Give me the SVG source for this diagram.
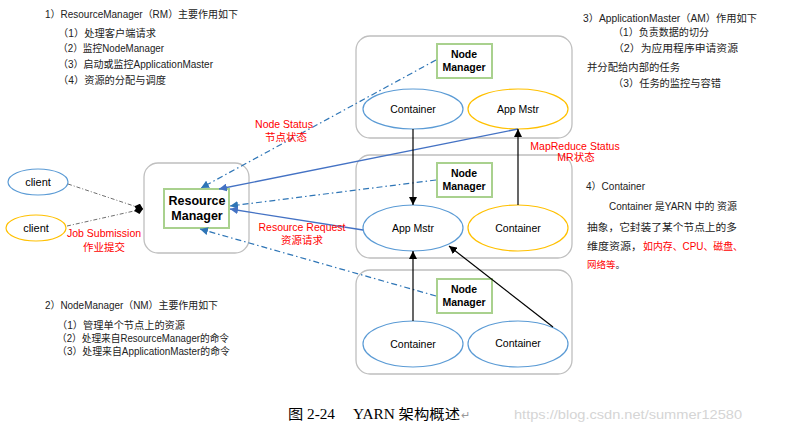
<svg xmlns="http://www.w3.org/2000/svg" width="790" height="434" viewBox="0 0 790 434">
<style>
text{font-family:"Liberation Sans","Noto Sans CJK SC",sans-serif;}
.note{font-size:10px;fill:#222;}
.red{fill:#ff0000;}
.lbl{font-size:10.5px;fill:#ff0000;text-anchor:middle;}
.outer{fill:#fff;stroke:#bfbfbf;stroke-width:1.3;}
.nm{fill:#fff;stroke:#a9d18e;stroke-width:2;}
.nmt{font-size:10.5px;font-weight:bold;fill:#000;text-anchor:middle;}
.eb{fill:#fff;stroke:#5b9bd5;stroke-width:1.2;}
.eo{fill:#fff;stroke:#ffc000;stroke-width:1.2;}
.et{font-size:10.5px;fill:#000;text-anchor:middle;}
.dd{fill:none;stroke:#2e75b6;stroke-width:1.2;stroke-dasharray:6 3 1.5 3;marker-end:url(#ab);}
.sb{fill:none;stroke:#4472c4;stroke-width:1.3;marker-end:url(#ab2);}
.sk{fill:none;stroke:#000;stroke-width:1.2;marker-end:url(#ak);}
.gd{fill:none;stroke:#6f6f6f;stroke-width:1;stroke-dasharray:4 2 1 2;marker-end:url(#dm);}
.cap{font-family:"Liberation Serif","Noto Sans CJK SC",serif;font-size:14px;fill:#000;}
</style>
<defs>
<marker id="ab" markerWidth="9" markerHeight="8" refX="8" refY="4" orient="auto" markerUnits="userSpaceOnUse"><path d="M0,0 L8,4 L0,8 Z" fill="#2e75b6"/></marker>
<marker id="ab2" markerWidth="9" markerHeight="8" refX="8" refY="4" orient="auto" markerUnits="userSpaceOnUse"><path d="M0,0 L8,4 L0,8 Z" fill="#4472c4"/></marker>
<marker id="ak" markerWidth="9" markerHeight="8" refX="8" refY="4" orient="auto" markerUnits="userSpaceOnUse"><path d="M0,0 L8,4 L0,8 Z" fill="#000"/></marker>
<marker id="dm" markerWidth="10" markerHeight="8" refX="9" refY="4" orient="auto" markerUnits="userSpaceOnUse"><path d="M0,4 L4.5,0 L9,4 L4.5,8 Z" fill="#000"/></marker>
</defs>
<rect width="790" height="434" fill="#fff"/>

<g id="notes">
<text class="note" x="45" y="18" textLength="193" lengthAdjust="spacingAndGlyphs">1）ResourceManager（RM）主要作用如下</text>
<text class="note" x="58" y="37" textLength="98" lengthAdjust="spacingAndGlyphs">（1）处理客户端请求</text>
<text class="note" x="58" y="52" textLength="106" lengthAdjust="spacingAndGlyphs">（2）监控NodeManager</text>
<text class="note" x="58" y="68" textLength="155" lengthAdjust="spacingAndGlyphs">（3）启动或监控ApplicationMaster</text>
<text class="note" x="58" y="84" textLength="108" lengthAdjust="spacingAndGlyphs">（4）资源的分配与调度</text>

<text class="note" x="583" y="22" textLength="174" lengthAdjust="spacingAndGlyphs">3）ApplicationMaster（AM）作用如下</text>
<text class="note" x="613" y="36" textLength="96" lengthAdjust="spacingAndGlyphs">（1）负责数据的切分</text>
<text class="note" x="613" y="52" textLength="125" lengthAdjust="spacingAndGlyphs">（2）为应用程序申请资源</text>
<text class="note" x="587" y="71" textLength="93" lengthAdjust="spacingAndGlyphs">并分配给内部的任务</text>
<text class="note" x="613" y="87" textLength="108" lengthAdjust="spacingAndGlyphs">（3）任务的监控与容错</text>

<text class="note" x="586" y="190" textLength="59" lengthAdjust="spacingAndGlyphs">4）Container</text>
<text class="note" x="609" y="210" textLength="128" lengthAdjust="spacingAndGlyphs">Container 是YARN 中的 资源</text>
<text class="note" x="587" y="231" textLength="150" lengthAdjust="spacingAndGlyphs">抽象，它封装了某个节点上的多</text>
<text class="note" x="587" y="250" textLength="55" lengthAdjust="spacingAndGlyphs">维度资源，</text>
<text class="note red" x="643" y="250" textLength="100" lengthAdjust="spacingAndGlyphs">如内存、CPU、磁盘、</text>
<text class="note" x="587" y="268" style="font-size:9.5px"><tspan fill="#ff0000">网络等</tspan>。</text>

<text class="note" x="45" y="309" textLength="173" lengthAdjust="spacingAndGlyphs">2）NodeManager（NM）主要作用如下</text>
<text class="note" x="57" y="329" textLength="128" lengthAdjust="spacingAndGlyphs">（1）管理单个节点上的资源</text>
<text class="note" x="57" y="342" textLength="172" lengthAdjust="spacingAndGlyphs">（2）处理来自ResourceManager的命令</text>
<text class="note" x="57" y="355" textLength="173" lengthAdjust="spacingAndGlyphs">（3）处理来自ApplicationMaster的命令</text>
</g>

<g id="rm-host">
<rect class="outer" x="144" y="163" width="105" height="90" rx="14"/>
</g>
<g id="node1-host"><rect class="outer" x="356" y="36" width="216" height="102" rx="14"/></g>
<g id="node2-host"><rect class="outer" x="356" y="155" width="216" height="103" rx="14"/></g>
<g id="node3-host"><rect class="outer" x="356" y="270" width="216" height="104" rx="14"/></g>

<g id="resource-manager">
<rect class="nm" x="164" y="189" width="65" height="39"/>
<text class="nmt" x="197" y="205" style="font-size:12.5px">Resource</text>
<text class="nmt" x="197" y="220" style="font-size:12.5px">Manager</text>
</g>

<g id="node-manager-1">
<rect class="nm" x="437" y="44" width="55" height="34"/>
<text class="nmt" x="464" y="58">Node</text>
<text class="nmt" x="464" y="71">Manager</text>
</g>
<g id="node-manager-2">
<rect class="nm" x="437" y="163" width="55" height="34"/>
<text class="nmt" x="464" y="177">Node</text>
<text class="nmt" x="464" y="190">Manager</text>
</g>
<g id="node-manager-3">
<rect class="nm" x="437" y="279" width="55" height="34"/>
<text class="nmt" x="464" y="293">Node</text>
<text class="nmt" x="464" y="306">Manager</text>
</g>

<g id="container-1a">
<ellipse class="eb" cx="413" cy="109" rx="50" ry="20"/>
<text class="et" x="413" y="113">Container</text>
</g>
<g id="appmstr-1">
<ellipse class="eo" cx="518" cy="109" rx="50" ry="20"/>
<text class="et" x="518" y="113">App Mstr</text>
</g>
<g id="appmstr-2">
<ellipse class="eb" cx="413" cy="228" rx="50" ry="23"/>
<text class="et" x="413" y="232">App Mstr</text>
</g>
<g id="container-2b">
<ellipse class="eo" cx="518" cy="228" rx="50" ry="23"/>
<text class="et" x="518" y="232">Container</text>
</g>
<g id="container-3a">
<ellipse class="eb" cx="413" cy="344" rx="50" ry="23"/>
<text class="et" x="413" y="348">Container</text>
</g>
<g id="container-3b">
<ellipse class="eb" cx="518" cy="344" rx="50" ry="23"/>
<text class="et" x="518" y="347">Container</text>
</g>

<g id="client-1">
<ellipse cx="38" cy="182" rx="30" ry="13" fill="#fff" stroke="#5b9bd5" stroke-width="1.2"/>
<text class="et" x="38" y="186" style="font-size:11px">client</text>
</g>
<g id="client-2">
<ellipse cx="36" cy="228" rx="30" ry="13" fill="#fff" stroke="#ffc000" stroke-width="1.2"/>
<text class="et" x="36" y="232" style="font-size:11px">client</text>
</g>

<g id="connectors">
<line class="gd" x1="68" y1="184" x2="143" y2="209"/>
<line class="gd" x1="67" y1="226" x2="143" y2="209"/>
<line class="dd" x1="436" y1="60" x2="201" y2="188"/>
<line class="sb" x1="518" y1="129" x2="219" y2="189"/>
<line class="dd" x1="436" y1="180" x2="230" y2="206"/>
<line class="sb" x1="363" y1="230" x2="230" y2="209"/>
<line class="dd" x1="436" y1="296" x2="200" y2="229"/>
<line class="sk" x1="413" y1="129" x2="413" y2="205"/>
<line class="sk" x1="518" y1="205" x2="518" y2="129"/>
<line class="sk" x1="413" y1="321" x2="413" y2="251"/>
<line class="sk" x1="553" y1="327" x2="449" y2="246"/>
</g>

<g id="labels">
<text class="lbl" x="104" y="237">Job Submission</text>
<text class="lbl" x="104" y="251">作业提交</text>
<text class="lbl" x="284" y="128">Node Status</text>
<text class="lbl" x="286" y="141">节点状态</text>
<text class="lbl" x="302" y="231">Resource Request</text>
<text class="lbl" x="302" y="244">资源请求</text>
<text class="lbl" x="575" y="150">MapReduce Status</text>
<text class="lbl" x="576" y="161">MR状态</text>
</g>

<g id="caption">
<text class="cap" x="288" y="419" textLength="47" lengthAdjust="spacingAndGlyphs">图 2-24</text>
<text class="cap" x="353" y="419" textLength="107" lengthAdjust="spacingAndGlyphs">YARN 架构概述</text>
<text x="461" y="419" style="font-size:11px" fill="#999">↵</text>
<text x="514" y="419" style="font-size:13px" fill="#d5d5d5" textLength="228" lengthAdjust="spacingAndGlyphs">https://blog.csdn.net/summer12580</text>
</g>
</svg>
